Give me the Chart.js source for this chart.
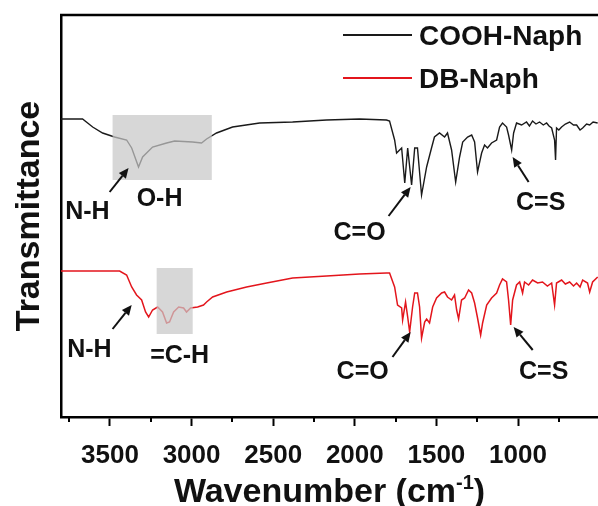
<!DOCTYPE html>
<html>
<head>
<meta charset="utf-8">
<script src="https://cdn.jsdelivr.net/npm/chart.js@4.4.0/dist/chart.umd.min.js"></script>
<style>
  html, body { margin: 0; padding: 0; background: #fff; overflow: hidden; }
  #wrap { width: 598px; height: 506px; }
</style>
</head>
<body>
<div id="wrap"><canvas id="ftirChart" width="598" height="506"></canvas></div>
<script>
const FONT = "'Liberation Sans', Arial, Helvetica, sans-serif";

// COOH-Naph spectrum (wavenumber cm-1 / transmittance, arbitrary units)
const coohWavenumber = [3800,3668,3606,3545,3472,3398,3367,3325,3300,3239,3153,3104,2994,2939,2908,2847,2749,2583,2381,2173,1971,1806,1787,1756,1744,1713,1694,1676,1652,1633,1616,1591,1560,1530,1512,1481,1450,1432,1407,1382,1358,1339,1309,1284,1266,1248,1223,1205,1187,1162,1131,1113,1095,1070,1058,1039,1027,1009,978,948,930,911,890,868,845,825,810,794,776,770,764,750,733,710,684,660,641,620,604,580,561,540,512];
const coohTransmittance = [298,298,290,284,280,277,269,250,260,270,274,276,275,274,278,284,290,294,295,297,298,297,296,277,264,269,234,269,232,269,269,222,250,269,280,284,280,284,267,235,260,275,280,282,275,245,264,272,269,274,277,290,294,290,282,267,284,294,292,295,291,296,293,295,292,294,291,289,277,257,289,287,290,293,295,292,292,287,289,293,292,295,294];

// DB-Naph spectrum
const dbWavenumber = [3800,3441,3398,3367,3337,3306,3282,3263,3239,3208,3178,3153,3135,3110,3079,3049,3031,3006,2963,2927,2908,2871,2785,2663,2540,2381,2173,1971,1806,1787,1756,1738,1713,1707,1689,1676,1664,1646,1633,1616,1603,1591,1572,1560,1542,1523,1499,1468,1450,1432,1407,1389,1376,1364,1346,1327,1303,1284,1266,1248,1229,1217,1192,1162,1131,1113,1095,1070,1058,1045,1033,1009,990,972,960,935,911,880,850,820,794,776,764,733,710,684,660,641,620,604,574,561,543,512];
const dbTransmittance = [146,146,142,130,122,117,105,100,107,110,105,94,95,105,110,109,105,109,110,112,115,120,125,130,134,139,141,143,144,144,130,112,109,97,115,100,85,110,124,124,110,79,95,98,94,110,119,124,125,120,117,122,107,98,117,119,127,124,114,99,82,94,112,119,124,132,138,135,117,92,117,132,135,124,135,132,137,134,135,131,134,112,134,137,133,135,131,134,130,137,134,125,135,140];

const majorTicks = [3500, 3000, 2500, 2000, 1500, 1000];
const minorTicks = [3750, 3250, 2750, 2250, 1750, 1250, 750];

// shaded bands (wavenumber from/to, transmittance from/to)
const bands = [
  { wn: [3484, 2876], t: [237, 302] },
  { wn: [3214, 2993], t: [83, 149] }
];

// peak labels, placed in data coordinates
const peakLabels = [
  { text: 'N-H', wn: 3638, t: 205 },
  { text: 'O-H', wn: 3196, t: 218 },
  { text: 'C=O', wn: 1971, t: 184 },
  { text: 'C=S', wn: 861, t: 214 },
  { text: 'N-H', wn: 3626, t: 67 },
  { text: '=C-H', wn: 3073, t: 61 },
  { text: 'C=O', wn: 1952, t: 45 },
  { text: 'C=S', wn: 843, t: 45 }
];

const peakArrows = [
  { from: [3502, 225], to: [3386, 249] },
  { from: [1793, 201], to: [1658, 230] },
  { from: [935, 235], to: [1033, 260] },
  { from: [3484, 88], to: [3367, 112] },
  { from: [1769, 60], to: [1658, 85] },
  { from: [910, 67], to: [1027, 90] }
];

const toPoints = (xs, ys) => xs.map((x, i) => ({ x: x, y: ys[i] }));

const bandPlugin = {
  id: 'bands',
  afterDatasetsDraw(chart) {
    const { ctx, scales: { x, y } } = chart;
    ctx.save();
    ctx.fillStyle = 'rgba(200, 200, 200, 0.72)';
    bands.forEach(b => {
      const x1 = x.getPixelForValue(b.wn[0]);
      const x2 = x.getPixelForValue(b.wn[1]);
      const y1 = y.getPixelForValue(b.t[1]);
      const y2 = y.getPixelForValue(b.t[0]);
      ctx.fillRect(x1, y1, x2 - x1, y2 - y1);
    });
    ctx.restore();
  }
};

function drawArrow(ctx, x1, y1, x2, y2) {
  const ang = Math.atan2(y2 - y1, x2 - x1);
  const head = 10, half = 4.5;
  const bx = x2 - head * Math.cos(ang);
  const by = y2 - head * Math.sin(ang);
  ctx.beginPath();
  ctx.moveTo(x1, y1);
  ctx.lineTo(bx, by);
  ctx.stroke();
  ctx.beginPath();
  ctx.moveTo(x2, y2);
  ctx.lineTo(bx + half * Math.sin(ang), by - half * Math.cos(ang));
  ctx.lineTo(bx - half * Math.sin(ang), by + half * Math.cos(ang));
  ctx.closePath();
  ctx.fill();
}

const decorPlugin = {
  id: 'decor',
  afterDraw(chart) {
    const { ctx, chartArea, scales: { x, y } } = chart;
    ctx.save();
    // top frame line
    ctx.strokeStyle = '#000';
    ctx.lineWidth = 2.5;
    ctx.beginPath();
    ctx.moveTo(chartArea.left - 1, chartArea.top);
    ctx.lineTo(chartArea.right, chartArea.top);
    ctx.stroke();

    // minor ticks
    ctx.lineWidth = 2;
    minorTicks.forEach(v => {
      const px = Math.round(x.getPixelForValue(v));
      ctx.beginPath();
      ctx.moveTo(px, chartArea.bottom);
      ctx.lineTo(px, chartArea.bottom + 5);
      ctx.stroke();
    });

    // peak labels + arrows
    ctx.fillStyle = '#111';
    ctx.font = 'bold 25px ' + FONT;
    ctx.textAlign = 'center';
    ctx.textBaseline = 'middle';
    peakLabels.forEach(l => {
      ctx.fillText(l.text, x.getPixelForValue(l.wn), y.getPixelForValue(l.t));
    });
    ctx.strokeStyle = '#111';
    ctx.lineWidth = 2;
    peakArrows.forEach(a => {
      drawArrow(ctx,
        x.getPixelForValue(a.from[0]), y.getPixelForValue(a.from[1]),
        x.getPixelForValue(a.to[0]), y.getPixelForValue(a.to[1]));
    });

    // legend
    const legendRows = [35, 78];
    ctx.font = 'bold 28px ' + FONT;
    ctx.textAlign = 'left';
    chart.data.datasets.forEach((ds, i) => {
      ctx.strokeStyle = ds.borderColor;
      ctx.lineWidth = 1.8;
      ctx.beginPath();
      ctx.moveTo(343, legendRows[i]);
      ctx.lineTo(412, legendRows[i]);
      ctx.stroke();
      ctx.fillStyle = '#111';
      ctx.fillText(ds.label, 419, legendRows[i] + 2);
    });

    // x axis title with superscript
    const cx = (chartArea.left + chartArea.right) / 2;
    const base = 502;
    const bigFont = 'bold 34px ' + FONT;
    const supFont = 'bold 20px ' + FONT;
    ctx.textBaseline = 'alphabetic';
    ctx.font = bigFont;
    const p1 = 'Wavenumber (cm', p3 = ')';
    const w1 = ctx.measureText(p1).width;
    const w3 = ctx.measureText(p3).width;
    ctx.font = supFont;
    const p2 = '-1';
    const w2 = ctx.measureText(p2).width;
    let sx = cx - (w1 + w2 + w3) / 2;
    ctx.font = bigFont;
    ctx.fillText(p1, sx, base);
    ctx.font = supFont;
    ctx.fillText(p2, sx + w1, base - 13);
    ctx.font = bigFont;
    ctx.fillText(p3, sx + w1 + w2, base);
    ctx.restore();
  }
};

new Chart(document.getElementById('ftirChart'), {
  type: 'line',
  data: {
    datasets: [
      {
        label: 'COOH-Naph',
        data: toPoints(coohWavenumber, coohTransmittance),
        borderColor: '#1a1a1a',
        borderWidth: 1.4,
        pointRadius: 0,
        tension: 0
      },
      {
        label: 'DB-Naph',
        data: toPoints(dbWavenumber, dbTransmittance),
        borderColor: '#e3151c',
        borderWidth: 1.5,
        pointRadius: 0,
        tension: 0
      }
    ]
  },
  options: {
    responsive: false,
    animation: false,
    events: [],
    layout: { padding: { top: 15, right: 0, left: 0, bottom: 0 } },
    plugins: {
      legend: { display: false },
      tooltip: { enabled: false }
    },
    scales: {
      x: {
        type: 'linear',
        reverse: true,
        min: 510,
        max: 3800,
        afterBuildTicks: scale => { scale.ticks = majorTicks.map(v => ({ value: v })); },
        afterFit: scale => { scale.height = 89; },
        border: { display: true, color: '#000', width: 2.5 },
        grid: { display: true, drawOnChartArea: false, drawTicks: true, tickLength: 9, tickWidth: 2, tickColor: '#000' },
        ticks: {
          color: '#111',
          padding: 14,
          maxRotation: 0,
          callback: v => String(v),
          font: { family: FONT, size: 26, weight: 'bold' }
        }
      },
      y: {
        min: 0,
        max: 402,
        afterFit: scale => { scale.width = 61; },
        border: { display: true, color: '#000', width: 2.5 },
        grid: { display: false, drawTicks: false },
        ticks: { display: false },
        title: {
          display: true,
          text: 'Transmittance',
          color: '#111',
          padding: { top: 9, bottom: 0 },
          font: { family: FONT, size: 34, weight: 'bold' }
        }
      }
    }
  },
  plugins: [bandPlugin, decorPlugin]
});
</script>
</body>
</html>
